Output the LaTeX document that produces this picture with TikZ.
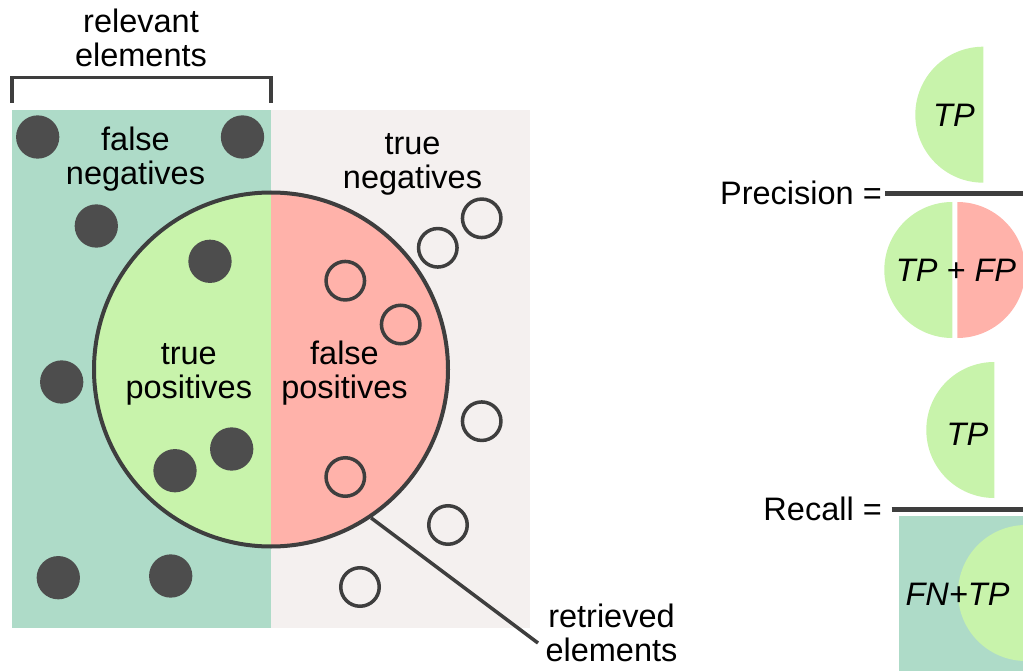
\documentclass[tikz,border=0pt]{standalone}
\usepackage{fontspec}
\setmainfont{Liberation Sans}
\definecolor{fnteal}{RGB}{174,219,200}
\definecolor{tnbg}{RGB}{244,240,239}
\definecolor{tpgreen}{RGB}{200,243,171}
\definecolor{fppink}{RGB}{255,178,170}
\definecolor{ink}{RGB}{62,62,62}
\definecolor{dotgrey}{RGB}{77,77,77}
\begin{document}
\begin{tikzpicture}[x=1pt,y=-1pt,
  % two-line labels are placed at the baseline of their last line
  lbl/.style={align=center, font=\fontsize{32.5}{34}\selectfont, inner sep=0pt, anchor=base},
  eq/.style={font=\fontsize{32.5}{34}\selectfont, inner sep=0pt, anchor=base east},
  term/.style={font=\fontsize{32.5}{34}\selectfont\itshape, inner sep=0pt, anchor=base},
  relevant/.style={circle, fill=dotgrey, minimum size=43.3pt, inner sep=0pt},
  irrelevant/.style={circle, draw=ink, line width=3.5pt, minimum size=38.5pt, inner sep=0pt},
  bar/.style={draw=ink, line width=4.5pt},
]
\useasboundingbox (0,0) rectangle (1023,671);
\clip (0,0) rectangle (1023,671);

% the two halves of the element set
\fill[fnteal] (12,110) rectangle (271,628.3);
\fill[tnbg] (271,110) rectangle (530,628.3);

% bracket over the relevant half
\draw[ink, line width=3.5pt] (12,103) -- (12,77.5) -- (271,77.5) -- (271,103);
\node[lbl] (rellbl) at (141,66.7) {relevant\\elements};

% retrieved set: green left half, pink right half
\begin{scope}
  \clip (271,369.5) circle (177);
  \fill[tpgreen] (90,190) rectangle (271,550);
  \fill[fppink] (271,190) rectangle (452,550);
\end{scope}

% relevant elements (filled)
\node[relevant] (r1) at (37.7,137) {};
\node[relevant] (r2) at (242.5,137) {};
\node[relevant] (r3) at (96.3,226) {};
\node[relevant] (r4) at (210,261.3) {};
\node[relevant] (r5) at (61.7,382) {};
\node[relevant] (r6) at (231.7,449) {};
\node[relevant] (r7) at (175,470.7) {};
\node[relevant] (r8) at (58.3,577.7) {};
\node[relevant] (r9) at (170.7,576) {};

% irrelevant elements (hollow)
\node[irrelevant] (i1) at (481.7,218.3) {};
\node[irrelevant] (i2) at (437.8,247.8) {};
\node[irrelevant] (i3) at (345.3,280.7) {};
\node[irrelevant] (i4) at (400.7,324.5) {};
\node[irrelevant] (i5) at (481.7,421.2) {};
\node[irrelevant] (i6) at (345.3,477) {};
\node[irrelevant] (i7) at (448,525) {};
\node[irrelevant] (i8) at (360,587) {};

\node[circle, draw=ink, line width=4pt, minimum size=354pt, inner sep=0pt] (ret) at (271,369.5) {};

\node[lbl] (fnlbl) at (135.5,185) {false\\negatives};
\node[lbl] (tnlbl) at (412.5,188.3) {true\\negatives};
\node[lbl] (tplbl) at (188.8,398.3) {true\\positives};
\node[lbl] (fplbl) at (344.5,398.3) {false\\positives};
\node[lbl] (retlbl) at (611.5,661.7) {retrieved\\elements};
\coordinate (retend) at (538,643);
\draw[ink, line width=3.5pt] (ret.-56) -- (retend);

% precision = TP / (TP + FP)
\begin{scope}
  \clip (915,40) rectangle (983.3,190);
  \fill[tpgreen] (983.3,114.7) circle (68);
\end{scope}
\node[term] (ptp) at (954,127) {TP};
\node[eq] (prec) at (882,205) {Precision =};
\coordinate (pbarend) at (1030,193.3);
\draw[bar] (885,193.3) -- (pbarend);
\begin{scope}
  \clip (880,200) rectangle (952.3,340);
  \fill[tpgreen] (952.3,270) circle (68);
\end{scope}
\begin{scope}
  \clip (957.3,200) rectangle (1030,340);
  \fill[fppink] (957.3,270) circle (68);
\end{scope}
\node[term] (ptpfp) at (956,281.7) {TP + FP};

% recall = TP / (FN + TP)
\begin{scope}
  \clip (920,355) rectangle (994.3,505);
  \fill[tpgreen] (994.3,430) circle (68);
\end{scope}
\node[term] (rtp) at (967.5,445) {TP};
\node[eq] (rec) at (882,520) {Recall =};
\coordinate (rbarend) at (1030,509.3);
\draw[bar] (891.7,509.3) -- (rbarend);
\fill[fnteal] (899.3,515.7) rectangle (1030,680);
\fill[tpgreen] (1026,593) circle (68);
\node[term] (rfntp) at (957.5,605) {FN+TP};
\end{tikzpicture}
\end{document}
